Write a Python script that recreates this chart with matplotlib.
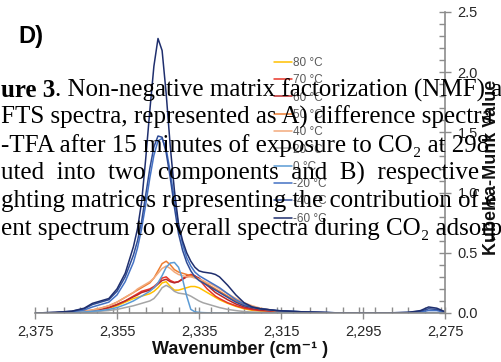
import matplotlib
matplotlib.use("Agg")
import matplotlib.pyplot as plt
from matplotlib.ticker import MultipleLocator, FuncFormatter

# ---------------- data ----------------
wavenumber = [2375, 2370, 2366, 2363, 2361, 2359, 2357, 2355, 2353, 2351, 2350, 2349,
              2348, 2347, 2346, 2345, 2344, 2343, 2342, 2341, 2340, 2339, 2338, 2337,
              2336, 2335, 2334, 2333, 2332, 2331, 2330, 2328, 2326, 2324, 2322, 2320,
              2316, 2310, 2300, 2290, 2284, 2281, 2279, 2277, 2275]

labels = ["80 °C", "70 °C", "60 °C", "50 °C", "40 °C", "20 °C", "0 °C", "-20 °C", "-40 °C", "-60 °C"]
colors = ["#ffc000", "#e8352a", "#b8282a", "#ed7d31", "#f2aa7c", "#a5a5a5",
          "#5b9bd5", "#4472c4", "#2f4c96", "#1f2f6e"]

t80 = [0, 0.002, 0.005, 0.01, 0.015, 0.025, 0.04, 0.06, 0.09, 0.12, 0.13, 0.14,
       0.15, 0.16, 0.18, 0.21, 0.25, 0.26, 0.22, 0.19, 0.19, 0.20, 0.21, 0.22,
       0.22, 0.21, 0.19, 0.17, 0.15, 0.13, 0.11, 0.08, 0.055, 0.035, 0.022, 0.015,
       0.006, 0.002, 0, 0, 0, 0, 0, 0, 0]
t70 = [0, 0.002, 0.005, 0.012, 0.02, 0.03, 0.045, 0.07, 0.10, 0.14, 0.16, 0.18,
       0.19, 0.20, 0.22, 0.25, 0.29, 0.30, 0.27, 0.255, 0.26, 0.285, 0.31, 0.32,
       0.31, 0.28, 0.24, 0.20, 0.17, 0.14, 0.12, 0.085, 0.06, 0.04, 0.028, 0.02,
       0.01, 0.004, 0, 0, 0, 0, 0, 0, 0]
t60 = [0, 0.002, 0.005, 0.012, 0.02, 0.03, 0.045, 0.07, 0.10, 0.135, 0.15, 0.17,
       0.18, 0.19, 0.21, 0.24, 0.27, 0.28, 0.26, 0.25, 0.26, 0.28, 0.30, 0.31,
       0.305, 0.29, 0.26, 0.23, 0.20, 0.17, 0.15, 0.11, 0.075, 0.05, 0.035, 0.025,
       0.012, 0.005, 0, 0, 0, 0, 0, 0, 0]
t50 = [0, 0.003, 0.008, 0.015, 0.025, 0.04, 0.06, 0.09, 0.13, 0.17, 0.19, 0.21,
       0.23, 0.25, 0.29, 0.35, 0.41, 0.43, 0.40, 0.36, 0.34, 0.33, 0.32, 0.31,
       0.30, 0.28, 0.26, 0.24, 0.22, 0.20, 0.18, 0.14, 0.10, 0.07, 0.05, 0.035,
       0.015, 0.005, 0, 0, 0, 0, 0, 0, 0]
t40 = [0, 0.003, 0.008, 0.015, 0.025, 0.04, 0.06, 0.09, 0.13, 0.17, 0.20, 0.22,
       0.24, 0.26, 0.29, 0.33, 0.37, 0.39, 0.37, 0.34, 0.32, 0.31, 0.30, 0.30,
       0.29, 0.28, 0.27, 0.25, 0.24, 0.22, 0.20, 0.16, 0.12, 0.085, 0.06, 0.04,
       0.018, 0.006, 0, 0, 0, 0, 0, 0, 0]
t20 = [0, 0.001, 0.003, 0.006, 0.01, 0.015, 0.02, 0.03, 0.045, 0.06, 0.07, 0.08,
       0.09, 0.10, 0.12, 0.16, 0.21, 0.23, 0.21, 0.18, 0.165, 0.16, 0.155, 0.14,
       0.12, 0.10, 0.085, 0.075, 0.065, 0.055, 0.045, 0.03, 0.02, 0.012, 0.008, 0.005,
       0.002, 0, 0, 0, 0, 0, 0, 0, 0]
t0 = [0, 0.001, 0.005, 0.008, 0.015, 0.02, 0.03, 0.045, 0.07, 0.10, 0.12, 0.14,
      0.16, 0.18, 0.21, 0.25, 0.31, 0.38, 0.415, 0.42, 0.38, 0.28, 0.14, 0.03,
      0.01, 0.005, 0.003, 0.002, 0.001, 0, 0, 0, 0, 0, 0, 0,
      0, 0, 0, 0, 0, 0, 0, 0, 0]
tm20 = [0, 0.003, 0.01, 0.025, 0.05, 0.07, 0.09, 0.15, 0.26, 0.42, 0.54, 0.70,
        0.90, 1.12, 1.31, 1.43, 1.45, 1.36, 1.17, 0.94, 0.73, 0.57, 0.46, 0.39,
        0.34, 0.31, 0.29, 0.27, 0.25, 0.23, 0.21, 0.16, 0.11, 0.075, 0.05, 0.035,
        0.02, 0.01, 0, 0, 0.003, 0.01, 0.02, 0.02, 0.005]
tm40 = [0, 0.005, 0.015, 0.035, 0.07, 0.09, 0.11, 0.18, 0.30, 0.48, 0.60, 0.76,
        0.98, 1.20, 1.38, 1.47, 1.46, 1.33, 1.12, 0.88, 0.66, 0.52, 0.42, 0.35,
        0.30, 0.27, 0.25, 0.23, 0.21, 0.19, 0.17, 0.13, 0.09, 0.06, 0.045, 0.035,
        0.02, 0.01, 0, 0, 0.005, 0.015, 0.035, 0.03, 0.01]
tm60 = [0, 0.005, 0.015, 0.04, 0.08, 0.10, 0.12, 0.20, 0.33, 0.55, 0.70, 0.92,
        1.28, 1.68, 2.05, 2.28, 2.18, 1.82, 1.38, 1.02, 0.74, 0.60, 0.50, 0.43,
        0.38, 0.35, 0.34, 0.335, 0.33, 0.32, 0.30, 0.23, 0.15, 0.085, 0.05, 0.035,
        0.02, 0.01, 0, 0, 0.005, 0.02, 0.05, 0.04, 0.01]

series = [t80, t70, t60, t50, t40, t20, t0, tm20, tm40, tm60]

x_ticks = [2375, 2355, 2335, 2315, 2295, 2275]
y_ticks = [0.0, 0.5, 1.0, 1.5, 2.0, 2.5]

caption_lines = [
    ("ure 3", ". Non-negative matrix factorization (NMF) a"),
    ("", "FTS spectra, represented as A) difference spectra"),
    ("", "-TFA after 15 minutes of exposure to CO\u2082 at 298"),
    ("", "uted  into  two  components  and  B)  respective"),
    ("", "ghting matrices representing the contribution of e"),
    ("", "ent spectrum to overall spectra during CO\u2082 adsorp"),
]

# ---------------- figure ----------------
W, H = 502, 362
fig = plt.figure(figsize=(W / 100, H / 100), dpi=100)
ax = fig.add_axes([35 / W, 1 - 313 / H, 410 / W, 301 / H])
sans = ["Liberation Sans", "DejaVu Sans"]
serif = ["Liberation Serif", "DejaVu Serif"]

for vals, c, lab in zip(series, colors, labels):
    ax.plot(wavenumber, vals, color=c, lw=1.1, label=lab, solid_capstyle="round")

ax.set_xlim(2375, 2275)
ax.set_ylim(0, 2.5)
ax.set_xticks(x_ticks)
ax.set_yticks(y_ticks)
ax.xaxis.set_minor_locator(MultipleLocator(4))
ax.yaxis.set_minor_locator(MultipleLocator(0.1))
ax.xaxis.set_major_formatter(FuncFormatter(lambda v, p: f"{int(round(v)):,}"))
ax.yaxis.set_major_formatter(FuncFormatter(lambda v, p: f"{v:.1f}"))
ax.yaxis.tick_right()
for s in ["top", "left"]:
    ax.spines[s].set_visible(False)
for s in ["bottom", "right"]:
    ax.spines[s].set_color("#8c8c8c")
    ax.spines[s].set_linewidth(1.2)
ax.tick_params(which="major", direction="inout", length=8, width=1, color="#8c8c8c",
               labelsize=10.5, labelcolor="#262626", pad=5)
ax.tick_params(which="minor", direction="in", length=4, width=1, color="#8c8c8c")
ax.tick_params(axis="y", which="both", left=False, right=True)
for lab in ax.get_xticklabels() + ax.get_yticklabels():
    lab.set_family(sans)
ax.patch.set_alpha(0)

leg = ax.legend(loc="upper left", bbox_to_anchor=(239 / 410, (313 - 57) / 301),
                frameon=False, fontsize=8.5, handlelength=1.5, handletextpad=0.15,
                labelspacing=0.45, borderaxespad=0, borderpad=0)
for t in leg.get_texts():
    t.set_color("#595959")
    t.set_family(sans)

fig.text(18 / W, 1 - 43 / H, "D)", fontsize=17, fontweight="bold", family=sans,
         ha="left", va="baseline")
fig.text(240 / W, 1 - 350 / H, "Wavenumber (cm\u207b\u00b9 )", fontsize=13,
         fontweight="bold", family=sans, ha="center", va="center", color="#111111")
fig.text(492 / W, 1 - 167 / H, "Kubelka-Munk Value", fontsize=13, fontweight="bold",
         family=sans, rotation=90, ha="center", va="center", color="#111111")

# overlaid caption text
fig.canvas.draw()
renderer = fig.canvas.get_renderer()
baselines = [97, 124, 152, 180, 207, 235]
fs = 18
for (bold_part, rest), yb in zip(caption_lines, baselines):
    x0 = 1 / W
    if bold_part:
        tb = fig.text(x0, 1 - yb / H, bold_part, fontsize=fs, fontweight="bold",
                      family=serif, ha="left", va="baseline", zorder=10)
        bb = tb.get_window_extent(renderer)
        x0 = bb.x1 / W
    fig.text(x0, 1 - yb / H, rest, fontsize=fs, family=serif, ha="left",
             va="baseline", zorder=10)

fig.savefig("out.png", dpi=100)
